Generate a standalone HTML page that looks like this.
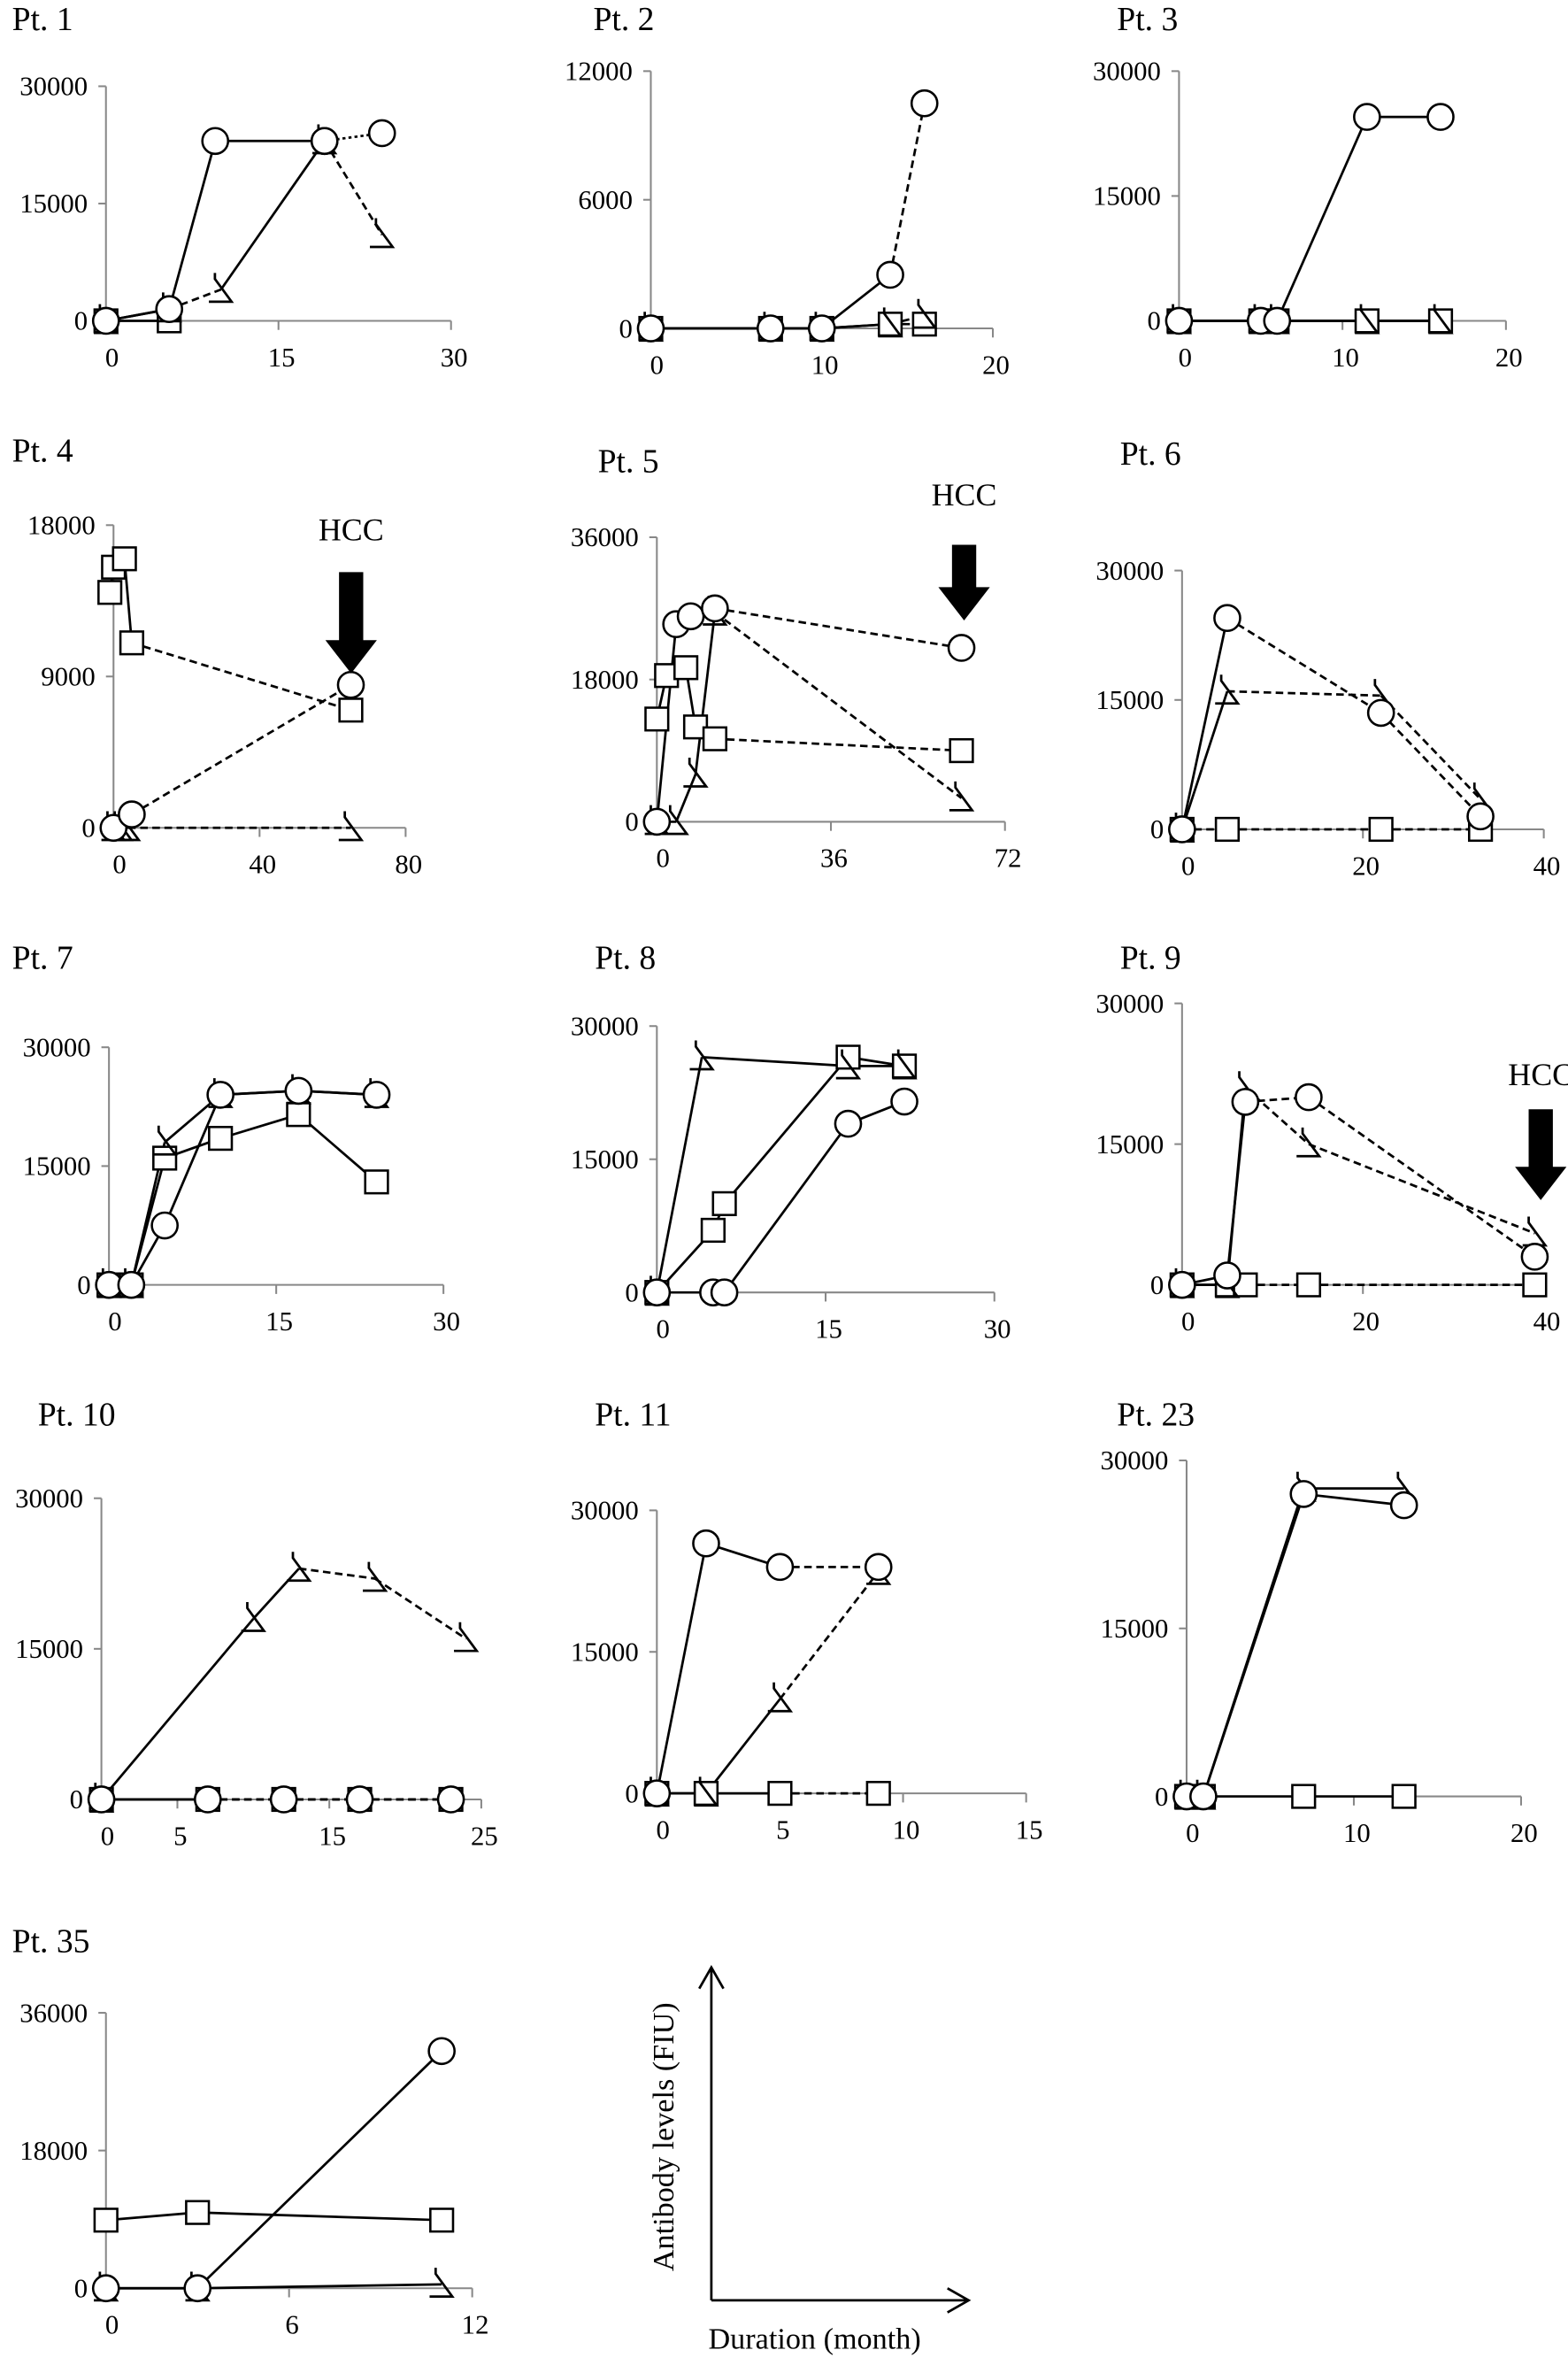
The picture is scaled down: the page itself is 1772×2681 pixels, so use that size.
<!DOCTYPE html>
<html><head><meta charset="utf-8">
<style>
html,body{margin:0;padding:0;background:#fff;}
svg{display:block;}
text{font-family:"Liberation Serif",serif;fill:#000;}
</style></head>
<body>
<svg id="fig" width="1772" height="2681" viewBox="0 0 1036 1568" preserveAspectRatio="none" xmlns="http://www.w3.org/2000/svg">
<g>
  <line x1="470" y1="1520" x2="470" y2="1300" stroke="#000" stroke-width="1.6"/>
  <polyline points="462,1314 470,1300 478,1314" fill="none" stroke="#000" stroke-width="1.6"/>
  <line x1="470" y1="1520" x2="640" y2="1520" stroke="#000" stroke-width="1.6"/>
  <polyline points="626,1512 640,1520 626,1528" fill="none" stroke="#000" stroke-width="1.6"/>
  <text transform="translate(445,1412) rotate(-90)" text-anchor="middle" font-size="20">Antibody levels (FIU)</text>
  <text x="468" y="1552" font-size="20">Duration (month)</text>
</g>
</svg>
<script>
// Data arrays: each series = x values (months), y values (FIU), segment styles (s solid, d dashed, o dotted)
const pt1Circle={x:[0,5.5,9.5,19],y:[0,1500,23000,23000],seg:"sss"};
const pt1CircleB={x:[19,24],y:[23000,24000],seg:"o"};
const pt1Tri={x:[0,5.5,10,19,24],y:[0,1500,4000,23000,11000],seg:"sdsd"};
const pt1Sq={x:[0,5.5],y:[0,0],seg:"s"};

const pt2Circle={x:[0,7,10,14,16],y:[0,0,0,2500,10500],seg:"sssd"};
const pt2Tri={x:[0,7,10,14,16],y:[0,0,0,200,600],seg:"sssd"};
const pt2Sq={x:[0,7,10,14,16],y:[0,0,0,200,200],seg:"sssd"};

const pt3Circle={x:[0,5,6,11.5,16],y:[0,0,0,24500,24500],seg:"ssss"};
const pt3Tri={x:[0,5,6,11.5,16],y:[0,0,0,0,0],seg:"ssss"};
const pt3Sq={x:[0,5,6,11.5,16],y:[0,0,0,0,0],seg:"ssss"};

const pt4Sq={x:[-1,0,3,5,65],y:[14000,15500,16000,11000,7000],seg:"sssd"};
const pt4Circle={x:[0,5,65],y:[0,800,8500],seg:"sd"};
const pt4Tri={x:[0,2,4,65],y:[0,0,0,0],seg:"ssd"};

const pt5Circle={x:[0,4,7,12,63],y:[0,25000,26000,27000,22000],seg:"sssd"};
const pt5Sq={x:[0,2,6,8,12,63],y:[13000,18500,19500,12000,10500,9000],seg:"ssssd"};
const pt5Tri={x:[0,4,8,12,63],y:[0,0,6000,26500,3000],seg:"sssd"};

const pt6Circle={x:[0,5,22,33],y:[0,24500,13500,1500],seg:"sdd"};
const pt6Tri={x:[0,5,22,33],y:[0,16000,15500,3500],seg:"sdd"};
const pt6Sq={x:[0,5,22,33],y:[0,0,0,0],seg:"ddd"};

const pt7Circle={x:[0,2,5,10,17,24],y:[0,0,7500,24000,24500,24000],seg:"sssss"};
const pt7Sq={x:[0,2,5,10,17,24],y:[0,0,16000,18500,21500,13000],seg:"sssss"};
const pt7Tri={x:[0,2,5,10,17,24],y:[0,0,18000,24000,24500,24000],seg:"sssss"};

const pt8Tri={x:[0,4,17,22],y:[0,26500,25500,25500],seg:"sss"};
const pt8Sq={x:[0,5,6,17,22],y:[0,7000,10000,26500,25500],seg:"ssss"};
const pt8Circle={x:[0,5,6,17,22],y:[0,0,0,19000,21500],seg:"ssss"};

const pt9Circle={x:[0,5,7,14,39],y:[0,1000,19500,20000,3000],seg:"ssdd"};
const pt9Tri={x:[0,5,7,14,39],y:[0,0,21000,15000,5500],seg:"ssdd"};
const pt9Sq={x:[0,5,7,14,39],y:[0,0,0,0,0],seg:"sddd"};

const pt10Tri={x:[0,10,13,18,24],y:[0,18000,23000,22000,16000],seg:"ssdd"};
const pt10Circle={x:[0,7,12,17,23],y:[0,0,0,0,0],seg:"sddd"};
const pt10Sq={x:[0,7,12,17,23],y:[0,0,0,0,0],seg:"sddd"};

const pt11Circle={x:[0,2,5,9],y:[0,26500,24000,24000],seg:"ssd"};
const pt11Tri={x:[0,2,5,9],y:[0,0,10000,23500],seg:"ssd"};
const pt11Sq={x:[0,2,5,9],y:[0,0,0,0],seg:"ssd"};

const pt23Circle={x:[0,1,7,13],y:[0,0,27000,26000],seg:"sss"};
const pt23Tri={x:[0,1,7,13],y:[0,0,27500,27500],seg:"sss"};
const pt23Sq={x:[0,1,7,13],y:[0,0,0,0],seg:"sss"};

const pt35Sq={x:[0,3,11],y:[8900,9900,8900],seg:"ss"};
const pt35Circle={x:[0,3,11],y:[0,0,31000],seg:"ss"};
const pt35Tri={x:[0,3,11],y:[0,0,500],seg:"ss"};

const xTicks={p1:[0,15,30],p2:[0,10,20],p3:[0,10,20],p4:[0,40,80],p5:[0,36,72],p6:[0,20,40],p7:[0,15,30],p8:[0,15,30],p9:[0,20,40],p10:[0,5,15,25],p11:[0,5,10,15],p23:[0,10,20],p35:[0,6,12]};
const yTicks={p1:[0,15000,30000],p2:[0,6000,12000],p3:[0,15000,30000],p4:[0,9000,18000],p5:[0,18000,36000],p6:[0,15000,30000],p7:[0,15000,30000],p8:[0,15000,30000],p9:[0,15000,30000],p10:[0,15000,30000],p11:[0,15000,30000],p23:[0,15000,30000],p35:[0,18000,36000]};

const layout=[
 {id:"p1",title:"Pt. 1",tx:8,ty:20,ax:70,x1:298,y0:212,yt:57,xMax:30,yMax:30000,series:[[pt1Sq,"sq"],[pt1Tri,"tri"],[pt1Circle,"c"],[pt1CircleB,"c"]]},
 {id:"p2",title:"Pt. 2",tx:392,ty:20,ax:430,x1:656,y0:217,yt:47,xMax:20,yMax:12000,series:[[pt2Sq,"sq"],[pt2Tri,"tri"],[pt2Circle,"c"]]},
 {id:"p3",title:"Pt. 3",tx:738,ty:20,ax:779,x1:995,y0:212,yt:47,xMax:20,yMax:30000,series:[[pt3Sq,"sq"],[pt3Tri,"tri"],[pt3Circle,"c"]]},
 {id:"p4",title:"Pt. 4",tx:8,ty:305,ax:75,x1:268,y0:547,yt:347,xMax:80,yMax:18000,series:[[pt4Sq,"sq"],[pt4Tri,"tri"],[pt4Circle,"c"]],hcc:[232,357,378,445]},
 {id:"p5",title:"Pt. 5",tx:395,ty:312,ax:434,x1:664,y0:543,yt:355,xMax:72,yMax:36000,series:[[pt5Sq,"sq"],[pt5Tri,"tri"],[pt5Circle,"c"]],hcc:[637,334,360,410]},
 {id:"p6",title:"Pt. 6",tx:740,ty:307,ax:781,x1:1020,y0:548,yt:377,xMax:40,yMax:30000,series:[[pt6Sq,"sq"],[pt6Tri,"tri"],[pt6Circle,"c"]]},
 {id:"p7",title:"Pt. 7",tx:8,ty:640,ax:72,x1:293,y0:849,yt:692,xMax:30,yMax:30000,series:[[pt7Sq,"sq"],[pt7Tri,"tri"],[pt7Circle,"c"]]},
 {id:"p8",title:"Pt. 8",tx:393,ty:640,ax:434,x1:657,y0:854,yt:678,xMax:30,yMax:30000,series:[[pt8Sq,"sq"],[pt8Tri,"tri"],[pt8Circle,"c"]]},
 {id:"p9",title:"Pt. 9",tx:740,ty:640,ax:781,x1:1020,y0:849,yt:663,xMax:40,yMax:30000,series:[[pt9Sq,"sq"],[pt9Tri,"tri"],[pt9Circle,"c"]],hcc:[1018,717,733,793]},
 {id:"p10",title:"Pt. 10",tx:25,ty:942,ax:67,x1:318,y0:1189,yt:990,xMax:25,yMax:30000,series:[[pt10Sq,"sq"],[pt10Tri,"tri"],[pt10Circle,"c"]]},
 {id:"p11",title:"Pt. 11",tx:393,ty:942,ax:434,x1:678,y0:1185,yt:998,xMax:15,yMax:30000,series:[[pt11Sq,"sq"],[pt11Tri,"tri"],[pt11Circle,"c"]]},
 {id:"p23",title:"Pt. 23",tx:738,ty:942,ax:784,x1:1005,y0:1187,yt:965,xMax:20,yMax:30000,series:[[pt23Sq,"sq"],[pt23Tri,"tri"],[pt23Circle,"c"]]},
 {id:"p35",title:"Pt. 35",tx:8,ty:1290,ax:70,x1:312,y0:1512,yt:1330,xMax:12,yMax:36000,series:[[pt35Sq,"sq"],[pt35Tri,"tri"],[pt35Circle,"c"]]}
];

const NS="http://www.w3.org/2000/svg";
const svg=document.getElementById('fig');
function mk(tag,attrs,parent){const e=document.createElementNS(NS,tag);for(const k in attrs)e.setAttribute(k,attrs[k]);parent.appendChild(e);return e;}

layout.forEach(p=>{
  const g=mk('g',{},svg);
  
  
  const sx=v=>p.ax+(v/p.xMax)*(p.x1-p.ax);
  const sy=v=>p.y0-(v/p.yMax)*(p.y0-p.yt);
  const t=mk('text',{x:p.tx,y:p.ty,'font-size':22},g);t.textContent=p.title;
  
  
  const ya=mk('line',{x1:p.ax,y1:p.y0,x2:p.ax,y2:p.yt,stroke:'#888','stroke-width':1.2},g);
  
  
  const xa=mk('line',{x1:p.ax,y1:p.y0,x2:p.x1,y2:p.y0,stroke:'#888','stroke-width':1.2},g);
  
  
  yTicks[p.id].forEach(v=>{
    mk('line',{x1:p.ax-5,y1:sy(v),x2:p.ax,y2:sy(v),stroke:'#888','stroke-width':1.2},g);
    const l=mk('text',{x:p.ax-12,y:sy(v)+6,'font-size':18,'text-anchor':'end'},g);l.textContent=v;
    
    
  });
  xTicks[p.id].forEach(v=>{
    if(v>0)mk('line',{x1:sx(v),y1:p.y0,x2:sx(v),y2:p.y0+6,stroke:'#888','stroke-width':1.2},g);
    const l=mk('text',{x:sx(v)+(v===0?4:2),y:p.y0+30,'font-size':18,'text-anchor':'middle'},g);l.textContent=v;
    
    
  });
  p.series.forEach(([s,type])=>{
    for(let i=0;i<s.x.length-1;i++){
      const st=s.seg[i];
      const ln=mk('line',{x1:sx(s.x[i]),y1:sy(s.y[i]),x2:sx(s.x[i+1]),y2:sy(s.y[i+1]),stroke:'#000','stroke-width':1.6},g);
      if(st==='d')ln.setAttribute('stroke-dasharray','5,3');
      if(st==='o')ln.setAttribute('stroke-dasharray','2,2');
      
      
    }
  });
  p.series.forEach(([s,type])=>{
    for(let i=0;i<s.x.length;i++){
      const X=sx(s.x[i]),Y=sy(s.y[i]);
      let m;
      if(type==='c')m=mk('circle',{cx:X,cy:Y,r:8.5,fill:'#fff',stroke:'#000','stroke-width':1.5},g);
      else if(type==='sq')m=mk('rect',{x:X-7.5,y:Y-7.5,width:15,height:15,fill:'#fff',stroke:'#000','stroke-width':1.5},g);
      else m=mk('path',{d:`M${X-4},${Y-11} L${X-4},${Y-7} L${X+7},${Y+8} L${X-8},${Y+8}`,fill:'none',stroke:'#000','stroke-width':1.6},g);
      
      
    }
  });
  if(p.hcc){
    const [hx,ly,a0,a1]=p.hcc;
    const ht=mk('text',{x:hx,y:ly,'font-size':21,'text-anchor':'middle'},g);ht.textContent='HCC';
    
    
    const ar=mk('path',{d:`M${hx-8},${a0} L${hx+8},${a0} L${hx+8},${a1-22} L${hx+17},${a1-22} L${hx},${a1} L${hx-17},${a1-22} L${hx-8},${a1-22} Z`,fill:'#000'},g);
    
    
  }
});
</script>
</body></html>
